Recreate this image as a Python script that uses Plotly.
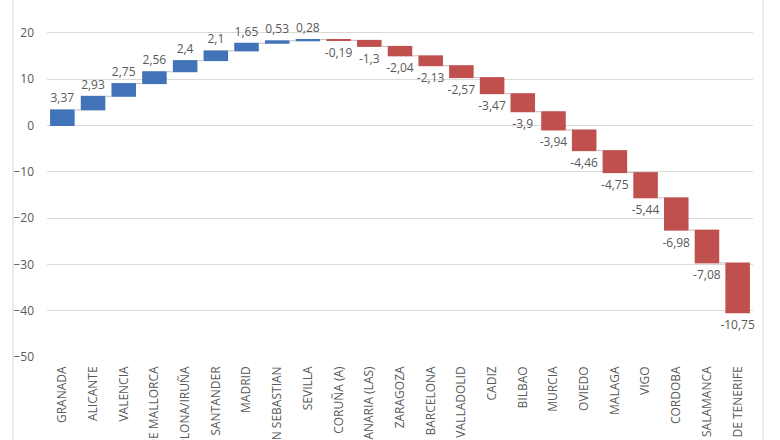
import plotly.graph_objects as go

cities = ["GRANADA", "ALICANTE", "VALENCIA", "PALMA DE MALLORCA", "PAMPLONA/IRUÑA",
          "SANTANDER", "MADRID", "SAN SEBASTIAN", "SEVILLA", "CORUÑA (A)",
          "PALMAS DE GRAN CANARIA (LAS)", "ZARAGOZA", "BARCELONA", "VALLADOLID", "CADIZ",
          "BILBAO", "MURCIA", "OVIEDO", "MALAGA", "VIGO", "CORDOBA", "SALAMANCA",
          "SANTA CRUZ DE TENERIFE"]
changes = [3.37, 2.93, 2.75, 2.56, 2.4, 2.1, 1.65, 0.53, 0.28, -0.19, -1.3, -2.04,
           -2.13, -2.57, -3.47, -3.9, -3.94, -4.46, -4.75, -5.44, -6.98, -7.08, -10.75]
labels = [f"{v:g}".replace(".", ",") for v in changes]
y_ticks = [-50, -40, -30, -20, -10, 0, 10, 20]

font = "Open Sans"
grey = "#595959"

fig = go.Figure(go.Waterfall(
    x=cities, y=changes, measure=["relative"] * len(changes),
    text=labels, textposition="outside", constraintext="none",
    textfont=dict(family=font, size=12, color=grey),
    increasing=dict(marker=dict(color="#4272B8")),
    decreasing=dict(marker=dict(color="#C0504D")),
    connector=dict(line=dict(color="#BFBFBF", width=1)),
    cliponaxis=False,
))

fig.update_layout(
    width=780, height=440,
    margin=dict(l=47, r=27, t=0, b=83),
    paper_bgcolor="white", plot_bgcolor="white",
    bargap=0.4, showlegend=False,
    font=dict(family=font, size=12, color=grey),
    shapes=[
        dict(type="line", xref="paper", yref="paper", x0=-34/706, x1=-34/706, y0=-83/357, y1=1,
             line=dict(color="#D9D9D9", width=1)),
        dict(type="line", xref="paper", yref="paper", x0=716/706, x1=716/706, y0=-83/357, y1=1,
             line=dict(color="#D9D9D9", width=1)),
    ],
)
fig.update_yaxes(range=[-50, 27.1], tickvals=y_ticks, showgrid=True, gridcolor="#D9D9D9",
                 zeroline=False, showline=False, ticks="", ticklabelstandoff=12,
                 tickfont=dict(family=font, size=12, color=grey))
fig.update_xaxes(tickangle=-90, automargin=False, showgrid=False, showline=False,
                 tickfont=dict(family=font, size=12, color=grey), ticklabelstandoff=6)

fig.write_html("out.html")
